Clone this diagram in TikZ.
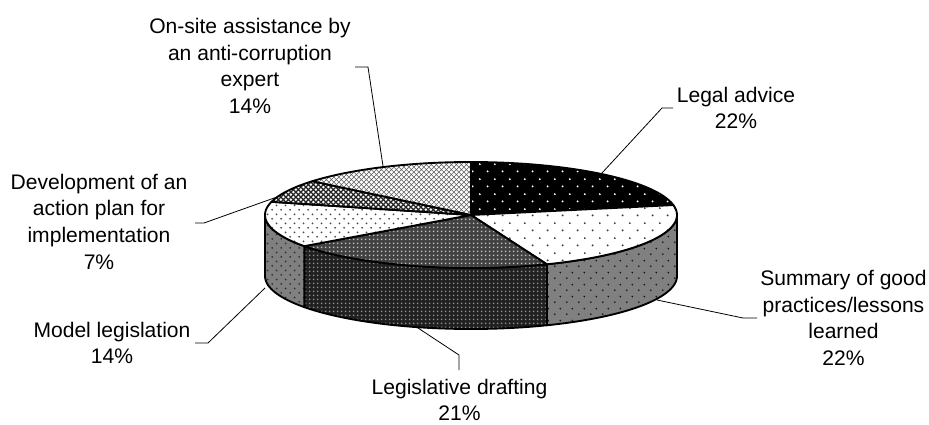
\documentclass[tikz,border=0pt]{standalone}
\usepackage{fontspec}
\setmainfont{Liberation Sans}
\usetikzlibrary{patterns}

% fill patterns for the pie slices
\pgfdeclarepatternformonly{stagdots}{\pgfqpoint{0pt}{0pt}}{\pgfqpoint{11pt}{11pt}}{\pgfqpoint{11pt}{11pt}}{%
  \pgfpathcircle{\pgfqpoint{2.75pt}{2.75pt}}{0.8pt}%
  \pgfpathcircle{\pgfqpoint{8.25pt}{8.25pt}}{0.8pt}%
  \pgfusepath{fill}}
\pgfdeclarepatternformonly{meddots}{\pgfqpoint{0pt}{0pt}}{\pgfqpoint{9pt}{9pt}}{\pgfqpoint{9pt}{9pt}}{%
  \pgfpathcircle{\pgfqpoint{2.25pt}{2.25pt}}{0.8pt}%
  \pgfpathcircle{\pgfqpoint{6.75pt}{6.75pt}}{0.8pt}%
  \pgfusepath{fill}}
\pgfdeclarepatternformonly{smalldots}{\pgfqpoint{0pt}{0pt}}{\pgfqpoint{7pt}{7pt}}{\pgfqpoint{7pt}{7pt}}{%
  \pgfpathcircle{\pgfqpoint{1.75pt}{1.75pt}}{0.8pt}%
  \pgfpathcircle{\pgfqpoint{5.25pt}{5.25pt}}{0.8pt}%
  \pgfusepath{fill}}
\pgfdeclarepatternformonly{finegrid}{\pgfqpoint{0pt}{0pt}}{\pgfqpoint{3pt}{3pt}}{\pgfqpoint{3pt}{3pt}}{%
  \pgfpathrectangle{\pgfqpoint{0.8pt}{0.8pt}}{\pgfqpoint{1.4pt}{1.4pt}}%
  \pgfusepath{fill}}
\pgfdeclarepatternformonly{diaglight}{\pgfqpoint{0pt}{0pt}}{\pgfqpoint{4pt}{4pt}}{\pgfqpoint{4pt}{4pt}}{%
  \pgfsetlinewidth{0.55pt}%
  \pgfpathmoveto{\pgfqpoint{0pt}{0pt}}\pgfpathlineto{\pgfqpoint{4pt}{4pt}}%
  \pgfpathmoveto{\pgfqpoint{0pt}{4pt}}\pgfpathlineto{\pgfqpoint{4pt}{0pt}}%
  \pgfusepath{stroke}}
\pgfdeclarepatternformonly{diagdark}{\pgfqpoint{0pt}{0pt}}{\pgfqpoint{4pt}{4pt}}{\pgfqpoint{4pt}{4pt}}{%
  \pgfsetlinewidth{1.1pt}%
  \pgfpathmoveto{\pgfqpoint{0pt}{0pt}}\pgfpathlineto{\pgfqpoint{4pt}{4pt}}%
  \pgfpathmoveto{\pgfqpoint{0pt}{4pt}}\pgfpathlineto{\pgfqpoint{4pt}{0pt}}%
  \pgfusepath{stroke}}

% pie geometry (pixel units, y downwards)
\def\pcx{471}\def\pcy{215}\def\prx{206}\def\pry{53}\def\pdp{61}

\newcommand\pietop[3]{%
  \draw[#1] (\pcx,\pcy) -- plot[domain=#2:#3,samples=50]
    ({\pcx+\prx*cos(\x)},{\pcy-\pry*sin(\x)}) -- cycle;}
\newcommand\piewall[3]{%
  \draw[#1] plot[domain=#2:#3,samples=50]
    ({\pcx+\prx*cos(\x)},{\pcy-\pry*sin(\x)})
    -- plot[domain=#3:#2,samples=50]
    ({\pcx+\prx*cos(\x)},{\pcy+\pdp-\pry*sin(\x)}) -- cycle;}

\begin{document}
\begin{tikzpicture}[x=0.75pt,y=-0.75pt,
  edge/.style={draw=black,line width=1.4pt,line join=round},
  legaltop/.style={edge,preaction={fill=black},pattern=stagdots,pattern color=white},
  sumtop/.style={edge,preaction={fill=white},pattern=stagdots,pattern color=black!75},
  sumside/.style={edge,preaction={fill=black!50},pattern=meddots,pattern color=black!90},
  drafttop/.style={edge,preaction={fill=black!75},pattern=finegrid,pattern color=black!25},
  draftside/.style={edge,preaction={fill=black!88},pattern=finegrid,pattern color=black!45},
  modeltop/.style={edge,preaction={fill=white},pattern=smalldots,pattern color=black!70},
  modelside/.style={edge,preaction={fill=black!50},pattern=smalldots,pattern color=black!80},
  devtop/.style={edge,preaction={fill=white},pattern=diagdark,pattern color=black!85},
  sitetop/.style={edge,preaction={fill=white},pattern=diaglight,pattern color=black!65},
  lbl/.style={align=center,inner sep=0pt,font=\fontsize{15.8}{20}\selectfont},
  leader/.style={draw=black,line width=0.6pt}]
\useasboundingbox (0,0) rectangle (929,425);

% side walls of the front slices
\piewall{sumside}{0}{-68.4}
\piewall{draftside}{-68.4}{-144}
\piewall{modelside}{-144}{-180}

% top faces, clockwise from twelve o'clock
\pietop{legaltop}{90}{10.8}
\pietop{sumtop}{10.8}{-68.4}
\pietop{drafttop}{-68.4}{-144}
\pietop{modeltop}{-144}{-194.4}
\pietop{devtop}{-194.4}{-219.6}
\pietop{sitetop}{-219.6}{-270}

% labels
\node[lbl] (onsite) at (250,66) {On-site assistance by\\an anti-corruption\\expert\\14\%};
\node[lbl] (legal) at (736,108) {Legal advice\\22\%};
\node[lbl] (summary) at (843.5,318) {Summary of good\\practices/lessons\\learned\\22\%};
\node[lbl] (drafting) at (459.5,400) {Legislative drafting\\21\%};
\node[lbl] (model) at (112,343) {Model legislation\\14\%};
\node[lbl] (devel) at (99,221.5) {Development of an\\action plan for\\implementation\\7\%};

% leader line end points
\coordinate (onsite-a) at (355,67);
\coordinate (onsite-b) at (383,166);
\coordinate (legal-a) at (673,108);
\coordinate (legal-b) at (602,173);
\coordinate (summary-a) at (757,318);
\coordinate (summary-b) at (657,300);
\coordinate (drafting-a) at (459,370);
\coordinate (drafting-b) at (415,326);
\coordinate (model-a) at (195,343);
\coordinate (model-b) at (265,288);
\coordinate (devel-a) at (195,223);
\coordinate (devel-b) at (277,197);

% leader lines
\draw[leader] (onsite-a) -- ++(13,0) -- (onsite-b);
\draw[leader] (legal-a) -- ++(-11,0) -- (legal-b);
\draw[leader] (summary-a) -- ++(-14,0) -- (summary-b);
\draw[leader] (drafting-a) -- ++(0,-15) -- (drafting-b);
\draw[leader] (model-a) -- ++(13,0) -- (model-b);
\draw[leader] (devel-a) -- ++(9,0) -- (devel-b);
\end{tikzpicture}
\end{document}
